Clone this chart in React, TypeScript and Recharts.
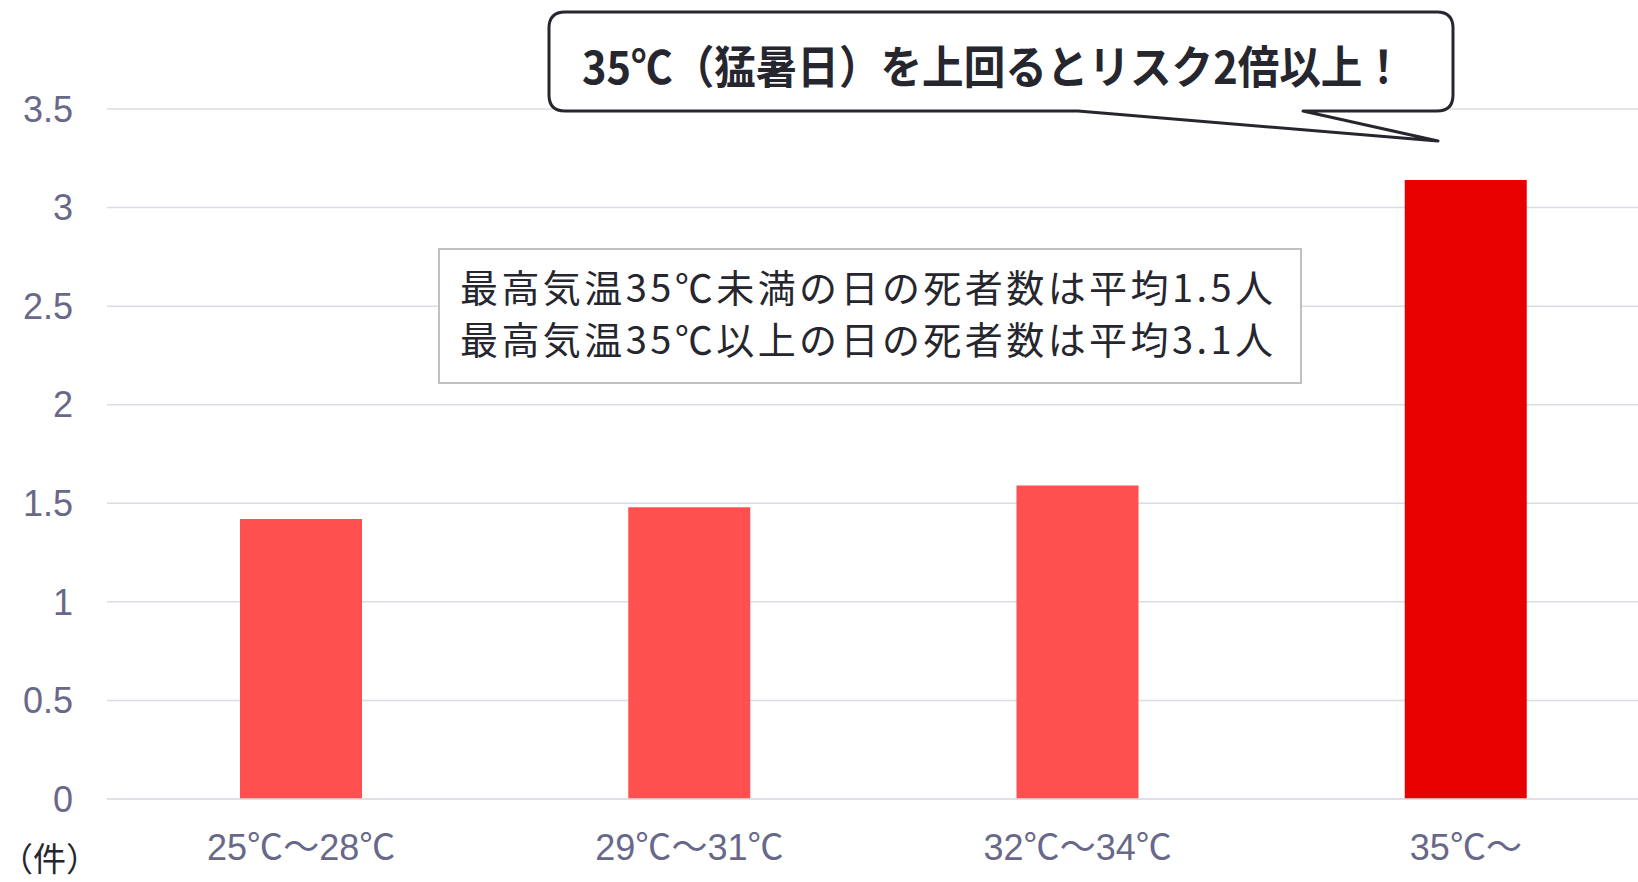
import React from 'react';
import { BarChart, Bar, XAxis, YAxis, CartesianGrid, Cell } from 'recharts';

// temperature bands and average deaths per day (件)
const categories = ['25℃～28℃', '29℃～31℃', '32℃～34℃', '35℃～'];
const deaths = [1.42, 1.48, 1.59, 3.14];
const yTicks = [0, 0.5, 1, 1.5, 2, 2.5, 3, 3.5];

const calloutText = '35℃（猛暑日）を上回るとリスク2倍以上！';
const noteLines = ['最高気温35℃未満の日の死者数は平均1.5人', '最高気温35℃以上の日の死者数は平均3.1人'];
const unitLabel = '（件）';

const BAR_COLORS = ['#FF5050', '#FF5050', '#FF5050', '#E80000'];
const TICK_COLOR = '#68688a';
const GRID_COLOR = '#dcdce4';
const TEXT_DARK = '#26262f';
const FONT = '"Liberation Sans", Arial, "Noto Sans CJK JP", sans-serif';
const JP_FONT = '"Noto Sans CJK JP", sans-serif';

const chartData = categories.map((name, i) => ({ name, value: deaths[i] }));

// speech bubble outline with a tail pointing at the last bar
const bubblePath = (() => {
  const x0 = 549, y0 = 12, x1 = 1453, y1 = 111, r = 16;
  return [
    `M ${x0 + r} ${y0}`,
    `L ${x1 - r} ${y0}`,
    `Q ${x1} ${y0} ${x1} ${y0 + r}`,
    `L ${x1} ${y1 - r}`,
    `Q ${x1} ${y1} ${x1 - r} ${y1}`,
    `L 1303 ${y1}`,
    `L 1438 141`,
    `L 1078 ${y1}`,
    `L ${x0 + r} ${y1}`,
    `Q ${x0} ${y1} ${x0} ${y1 - r}`,
    `L ${x0} ${y0 + r}`,
    `Q ${x0} ${y0} ${x0 + r} ${y0}`,
    'Z',
  ].join(' ');
})();

// x tick: the ℃ sign is drawn with the Japanese font
const CategoryTick = (props: any) => {
  const { x, y, payload } = props;
  const parts = String(payload.value).split(/(℃)/).filter(Boolean);
  return (
    <text x={x} y={y} dy="0.71em" textAnchor="middle" fill={TICK_COLOR} fontSize={36} fontFamily={FONT}>
      {parts.map((p, i) =>
        p === '℃' ? (
          <tspan key={i} fontFamily={JP_FONT}>
            {p}
          </tspan>
        ) : (
          <tspan key={i}>{p}</tspan>
        )
      )}
    </text>
  );
};

export default function App() {
  return (
    <div
      style={{
        position: 'absolute',
        left: 0,
        top: 0,
        width: 1638,
        height: 882,
        overflow: 'hidden',
        background: '#ffffff',
      }}
    >
      <BarChart
        width={1680}
        height={882}
        data={chartData}
        margin={{ top: 109, right: 20, bottom: 23, left: 0 }}
      >
        <CartesianGrid vertical={false} stroke={GRID_COLOR} strokeWidth={1.5} />
        <XAxis
          dataKey="name"
          height={60}
          tickLine={false}
          tickSize={6}
          tickMargin={29}
          axisLine={{ stroke: GRID_COLOR, strokeWidth: 1.5 }}
          tick={<CategoryTick />}
          interval={0}
        />
        <YAxis
          width={107}
          domain={[0, 3.5]}
          ticks={yTicks}
          axisLine={false}
          tickLine={false}
          tickSize={6}
          tickMargin={28}
          tick={{ fill: TICK_COLOR, fontSize: 36, fontFamily: FONT }}
        />
        <Bar dataKey="value" barSize={122} isAnimationActive={false}>
          {chartData.map((d, i) => (
            <Cell key={d.name} fill={BAR_COLORS[i]} />
          ))}
        </Bar>
      </BarChart>

      <svg
        width={1638}
        height={882}
        style={{ position: 'absolute', left: 0, top: 0, pointerEvents: 'none' }}
      >
        <path d={bubblePath} fill="#ffffff" stroke={TEXT_DARK} strokeWidth={3} strokeLinejoin="round" />
        <text
          x={582}
          y={84}
          fontSize={45}
          fontWeight="bold"
          fontFamily={JP_FONT}
          fill={TEXT_DARK}
          textLength={822}
          lengthAdjust="spacingAndGlyphs"
        >
          {calloutText}
        </text>

        <rect x={439} y={249} width={862} height={134} fill="#ffffff" stroke="#c0c0c0" strokeWidth={2} />
        {noteLines.map((line, i) => (
          <text
            key={i}
            x={460}
            y={302 + i * 52}
            fontSize={38}
            fontFamily={JP_FONT}
            fill={TEXT_DARK}
            textLength={813}
            lengthAdjust="spacing"
          >
            {line}
          </text>
        ))}

        <text x={0} y={871} fontSize={33} fontFamily={JP_FONT} fill={TEXT_DARK}>
          {unitLabel}
        </text>
      </svg>
    </div>
  );
}
